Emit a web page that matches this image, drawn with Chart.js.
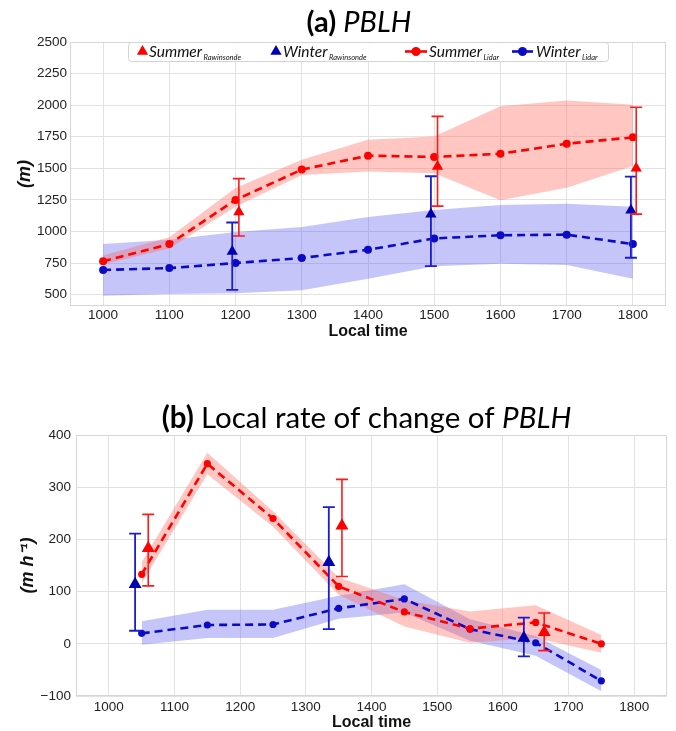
<!DOCTYPE html>
<html>
<head>
<meta charset="utf-8">
<script src="https://cdn.jsdelivr.net/npm/chart.js@4.4.1/dist/chart.umd.min.js"></script>
<style>
  html, body { margin: 0; padding: 0; background: #fff; width: 676px; height: 731px; overflow: hidden; }
  body { position: relative; }
  #wrapA { position: absolute; left: 0; top: 0; width: 676px; height: 345px; }
  #wrapB { position: absolute; left: 0; top: 365px; width: 676px; height: 370px; }
</style>
</head>
<body>
<div id="wrapA"><canvas id="pblh"></canvas></div>
<div id="wrapB"><canvas id="rate"></canvas></div>
<script>
// ---- (a) boundary-layer height, hourly ----
const hours = [1000, 1100, 1200, 1300, 1400, 1500, 1600, 1700, 1800];
const summerLidar   = [765, 900, 1250, 1490, 1600, 1590, 1615, 1695, 1745];
const summerLidarHi = [810, 955, 1344, 1567, 1726, 1752, 1991, 2036, 2004];
const summerLidarLo = [740, 865, 1195, 1447, 1474, 1460, 1248, 1346, 1519];
const winterLidar   = [695, 710, 750, 790, 855, 945, 970, 975, 900];
const winterLidarHi = [900, 935, 995, 1035, 1115, 1170, 1210, 1220, 1195];
const winterLidarLo = [492, 505, 510, 535, 625, 725, 745, 735, 625];

const summerRawTime = [1205, 1505, 1805];
const summerRaw     = [1155, 1515, 1500];
const summerRawHi   = [1418, 1911, 1983];
const summerRawLo   = [964, 1201, 1137];
const winterRawTime = [1195, 1495, 1797];
const winterRaw     = [842, 1137, 1169];
const winterRawHi   = [1071, 1437, 1434];
const winterRawLo   = [537, 725, 792];

// ---- (b) local rate of change, mid-hour ----
const midHours = [1050, 1150, 1250, 1350, 1450, 1550, 1650, 1750];
const summerRate   = [133, 345, 240, 110, 61, 29, 41, 0];
const summerRateHi = [156, 366, 254, 127, 84, 62, 74, 17];
const summerRateLo = [116, 325, 224, 94, 33, 2, 11, -17];
const winterRate   = [20, 36, 37, 68, 86, 28, 2, -71];
const winterRateHi = [43, 65, 65, 92, 114, 47, 15, -50];
const winterRateLo = [-2, 11, 11, 48, 60, 6, -23, -91];

const summerRawRateTime = [1060, 1355, 1663];
const summerRawRate     = [183, 226, 22];
const summerRawRateHi   = [248, 315, 59];
const summerRawRateLo   = [111, 129, -13];
const winterRawRateTime = [1040, 1335, 1632];
const winterRawRate     = [114, 156, 11];
const winterRawRateHi   = [211, 262, 50];
const winterRawRateLo   = [25, 28, -24];

// ---- tick labels ----
const timeTicks = [1000, 1100, 1200, 1300, 1400, 1500, 1600, 1700, 1800];
const pblhTicks = [500, 750, 1000, 1250, 1500, 1750, 2000, 2250, 2500];
const rateTicks = [-100, 0, 100, 200, 300, 400];

// ---- styling ----
const RED = '#ff0000';
const BLUE = '#0b0bc6';
const NAVY = '#0000b0';
const RED_FILL = 'rgba(255, 100, 90, 0.37)';
const BLUE_FILL = 'rgba(80, 80, 240, 0.33)';
const GRID = '#e2e2e2';
const FRAME = '#d6d6d6';
const TICK_FONT = { family: "'Liberation Sans', Arial, sans-serif", size: 13.5 };
const TITLE_FAMILY = "Lato, 'Open Sans', sans-serif";

const pts = (xs, ys) => xs.map((x, i) => ({ x, y: ys[i] }));

function band(xs, hi, lo, color) {
  return [
    { data: pts(xs, hi), borderColor: 'transparent', borderWidth: 0, pointRadius: 0,
      backgroundColor: color, fill: '+1', order: 3 },
    { data: pts(xs, lo), borderColor: 'transparent', borderWidth: 0, pointRadius: 0,
      fill: false, order: 3 }
  ];
}

function lidar(xs, ys, color, r) {
  return { data: pts(xs, ys), borderColor: color, borderWidth: 2.6, borderDash: [8, 5],
    pointRadius: r, pointHoverRadius: r, pointBackgroundColor: color, pointBorderColor: color,
    pointBorderWidth: 0, fill: false, tension: 0, order: 2 };
}

function sonde(xs, ys, hi, lo, color, barColor, barWidth, r, cap) {
  return { data: pts(xs, ys), showLine: false, pointStyle: 'triangle',
    pointRadius: r, pointHoverRadius: r, pointBackgroundColor: color, pointBorderColor: color,
    pointBorderWidth: 0, fill: false, order: 1,
    errHi: hi, errLo: lo, errColor: barColor, errWidth: barWidth, errCap: cap };
}

// error bars are stroked just before their triangle markers
const errorBars = {
  id: 'errorBars',
  beforeDatasetDraw(chart, args) {
    const ds = chart.data.datasets[args.index];
    if (!ds.errHi) return;
    const { ctx, scales: { x, y } } = chart;
    ctx.save();
    ctx.beginPath();
    ctx.rect(chart.chartArea.left, chart.chartArea.top, chart.chartArea.width, chart.chartArea.height);
    ctx.clip();
    ctx.strokeStyle = ds.errColor;
    ctx.lineWidth = ds.errWidth;
    ds.data.forEach((p, i) => {
      const px = x.getPixelForValue(p.x);
      const y1 = y.getPixelForValue(ds.errHi[i]);
      const y2 = y.getPixelForValue(ds.errLo[i]);
      ctx.beginPath();
      ctx.moveTo(px, y1); ctx.lineTo(px, y2);
      ctx.moveTo(px - ds.errCap, y1); ctx.lineTo(px + ds.errCap, y1);
      ctx.moveTo(px - ds.errCap, y2); ctx.lineTo(px + ds.errCap, y2);
      ctx.stroke();
    });
    ctx.restore();
  }
};

// light frame round the plotting area
const frame = {
  id: 'frame',
  beforeDatasetsDraw(chart) {
    const { ctx, chartArea: a } = chart;
    ctx.save();
    ctx.strokeStyle = FRAME;
    ctx.lineWidth = 1;
    ctx.strokeRect(Math.round(a.left) + 0.5, Math.round(a.top) + 0.5,
      Math.round(a.width) - 1, Math.round(a.height) - 1);
    ctx.restore();
  }
};

// panel title made of bold, regular and italic runs
const mixedTitle = {
  id: 'mixedTitle',
  afterDraw(chart, args, opts) {
    const ctx = chart.ctx;
    ctx.save();
    ctx.fillStyle = '#000';
    ctx.textBaseline = 'middle';
    ctx.textAlign = 'left';
    const widths = opts.parts.map(p => { ctx.font = p.font; return ctx.measureText(p.text).width; });
    let x = opts.cx - widths.reduce((a, b) => a + b, 0) / 2;
    opts.parts.forEach((p, i) => { ctx.font = p.font; ctx.fillText(p.text, x, opts.y); x += widths[i]; });
    ctx.restore();
  }
};

// legend with subscripted labels
const subLegend = {
  id: 'subLegend',
  afterDraw(chart, args, opts) {
    const ctx = chart.ctx;
    const b = opts.box;
    ctx.save();
    ctx.fillStyle = 'rgba(255,255,255,0.9)';
    ctx.strokeStyle = '#d4d4d4';
    ctx.lineWidth = 1;
    ctx.beginPath();
    ctx.roundRect(b.x + 0.5, b.y + 0.5, b.w, b.h, 3);
    ctx.fill();
    ctx.stroke();
    opts.items.forEach(it => {
      ctx.fillStyle = it.color;
      ctx.strokeStyle = it.color;
      if (it.kind === 'triangle') {
        const r = it.r;
        ctx.beginPath();
        ctx.moveTo(it.mx, it.my - r);
        ctx.lineTo(it.mx + r * 0.866, it.my + r * 0.5);
        ctx.lineTo(it.mx - r * 0.866, it.my + r * 0.5);
        ctx.closePath();
        ctx.fill();
      } else {
        ctx.lineWidth = 2.6;
        ctx.beginPath();
        ctx.moveTo(it.x1, it.my); ctx.lineTo(it.x2, it.my);
        ctx.stroke();
        ctx.beginPath();
        ctx.arc((it.x1 + it.x2) / 2, it.my, 4.5, 0, Math.PI * 2);
        ctx.fill();
      }
      ctx.fillStyle = '#111';
      ctx.textBaseline = 'alphabetic';
      ctx.textAlign = 'left';
      ctx.font = opts.mainFont;
      ctx.fillText(it.text, it.tx, opts.base);
      const w = ctx.measureText(it.text).width;
      ctx.font = opts.subFont;
      ctx.fillText(it.sub, it.tx + w + 1.5, opts.subBase);
    });
    ctx.restore();
  }
};

function axes(c) {
  return {
    x: {
      type: 'linear', min: c.xMin, max: c.xMax,
      afterBuildTicks: s => { s.ticks = c.xTicks.map(v => ({ value: v })); },
      afterFit: s => { s.height = c.xHeight; },
      grid: { color: GRID, lineWidth: 1, drawTicks: false },
      border: { display: false },
      ticks: { color: '#222', font: TICK_FONT, padding: c.xPad, maxRotation: 0, autoSkip: false,
        callback: v => String(v) },
      title: { display: true, text: 'Local time', color: '#111',
        font: { family: "'Liberation Sans', Arial, sans-serif", size: 16, weight: 'bold' },
        padding: { top: 0, bottom: c.xTitlePad } }
    },
    y: {
      type: 'linear', min: c.yMin, max: c.yMax,
      afterBuildTicks: s => { s.ticks = c.yTicks.map(v => ({ value: v })); },
      afterFit: s => { s.width = c.yWidth; },
      grid: { color: GRID, lineWidth: 1, drawTicks: false },
      border: { display: false },
      ticks: { color: '#222', font: TICK_FONT, padding: c.yPad, autoSkip: false,
        callback: v => (v < 0 ? '\u2212' + Math.abs(v) : String(v)) },
      title: { display: true, text: c.yTitle, color: '#111',
        font: { family: "'Liberation Sans', Arial, sans-serif", size: 18, weight: 'bold', style: 'italic' },
        padding: { top: c.yTitlePad, bottom: 0 } }
    }
  };
}

const common = {
  responsive: true, maintainAspectRatio: false, animation: false, devicePixelRatio: 1,
  events: [],
};

new Chart(document.getElementById('pblh'), {
  type: 'line',
  data: {
    datasets: [
      ...band(hours, summerLidarHi, summerLidarLo, RED_FILL),
      ...band(hours, winterLidarHi, winterLidarLo, BLUE_FILL),
      lidar(hours, summerLidar, RED, 4),
      lidar(hours, winterLidar, BLUE, 4),
      sonde(summerRawTime, summerRaw, summerRawHi, summerRawLo, RED, '#ff1a1a', 1.6, 6.5, 6),
      sonde(winterRawTime, winterRaw, winterRawHi, winterRawLo, NAVY, '#1c1cd2', 1.8, 6.5, 6)
    ]
  },
  options: {
    ...common,
    layout: { padding: { top: 42, right: 10, left: 0, bottom: 0 } },
    scales: axes({ xMin: 950, xMax: 1850, xTicks: timeTicks, xHeight: 39, xPad: 1, xTitlePad: 4,
      yMin: 410, yMax: 2500, yTicks: pblhTicks, yWidth: 70, yPad: 3, yTitle: '(m)', yTitlePad: 14 }),
    plugins: {
      legend: { display: false }, tooltip: { enabled: false },
      mixedTitle: { cx: 359, y: 23, parts: [
        { text: '(a) ', font: `bold 29px ${TITLE_FAMILY}` },
        { text: 'PBLH', font: `italic 29px ${TITLE_FAMILY}` } ] },
      subLegend: {
        box: { x: 128, y: 42, w: 480, h: 19 },
        base: 56.5, subBase: 59.5,
        mainFont: `italic 15.5px ${TITLE_FAMILY}`, subFont: `italic 7.5px ${TITLE_FAMILY}`,
        items: [
          { kind: 'triangle', color: RED, mx: 142.5, my: 51.5, r: 6.5, tx: 149, text: 'Summer', sub: 'Rawinsonde' },
          { kind: 'triangle', color: NAVY, mx: 276, my: 51.5, r: 6.5, tx: 283, text: 'Winter', sub: 'Rawinsonde' },
          { kind: 'line', color: RED, x1: 405, x2: 427, my: 51.5, tx: 429, text: 'Summer', sub: 'Lidar' },
          { kind: 'line', color: BLUE, x1: 512, x2: 533, my: 51.5, tx: 536, text: 'Winter', sub: 'Lidar' }
        ]
      }
    }
  },
  plugins: [frame, errorBars, mixedTitle, subLegend]
});

new Chart(document.getElementById('rate'), {
  type: 'line',
  data: {
    datasets: [
      ...band(midHours, summerRateHi, summerRateLo, RED_FILL),
      ...band(midHours, winterRateHi, winterRateLo, BLUE_FILL),
      lidar(midHours, summerRate, RED, 3.6),
      lidar(midHours, winterRate, BLUE, 3.6),
      sonde(summerRawRateTime, summerRawRate, summerRawRateHi, summerRawRateLo, RED, '#ff1a1a', 1.6, 7.5, 6),
      sonde(winterRawRateTime, winterRawRate, winterRawRateHi, winterRawRateLo, NAVY, '#1c1cd2', 1.8, 7.5, 6)
    ]
  },
  options: {
    ...common,
    layout: { padding: { top: 70, right: 9, left: 0, bottom: 0 } },
    scales: axes({ xMin: 950, xMax: 1850, xTicks: timeTicks, xHeight: 39, xPad: 3, xTitlePad: 2.4,
      yMin: -100, yMax: 400, yTicks: rateTicks, yWidth: 76, yPad: 5, yTitle: '(m h\u207B\u00B9)', yTitlePad: 17 }),
    plugins: {
      legend: { display: false }, tooltip: { enabled: false },
      mixedTitle: { cx: 366.5, y: 53, parts: [
        { text: '(b) ', font: `bold 29.5px ${TITLE_FAMILY}` },
        { text: 'Local rate of change of ', font: `29.5px ${TITLE_FAMILY}` },
        { text: 'PBLH', font: `italic 29.5px ${TITLE_FAMILY}` } ] }
    }
  },
  plugins: [frame, errorBars, mixedTitle]
});
</script>
</body>
</html>
